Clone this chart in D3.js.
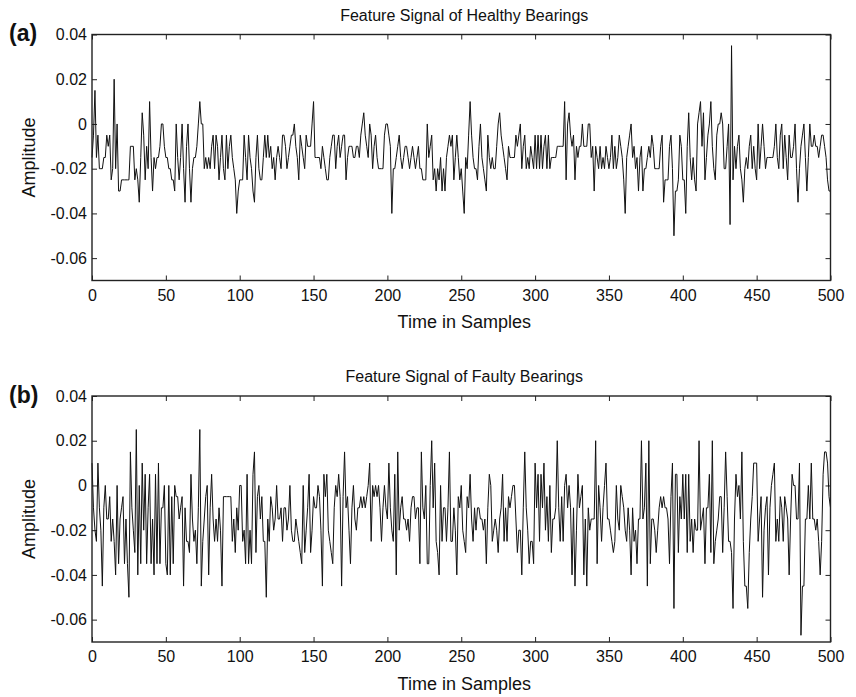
<!DOCTYPE html>
<html><head><meta charset="utf-8">
<script src="https://cdn.jsdelivr.net/npm/d3@7"></script>
<style>
body{margin:0;background:#fff}
svg{display:block;font-family:"Liberation Sans",Arial,Helvetica,sans-serif}
</style>
</head><body>
<svg id="chart" width="856" height="697"></svg>
<script>
// ---- data (amplitude per sample, samples 0..500) ----
const healthy = [
-0.015,-0.005,0.015,-0.015,-0.005,-0.02,-0.02,-0.02,-0.015,-0.015,
-0.005,-0.01,-0.005,-0.025,-0.02,0.02,-0.02,0,-0.03,-0.03,
-0.025,-0.025,-0.025,-0.025,-0.025,-0.025,-0.01,-0.01,-0.01,-0.025,
-0.02,-0.025,-0.035,-0.015,0.005,-0.005,-0.025,-0.01,-0.02,0.01,
-0.015,-0.03,-0.015,-0.02,-0.015,-0.015,-0.01,0,0,-0.01,
-0.015,-0.015,-0.02,-0.02,-0.025,-0.025,-0.03,0,-0.015,-0.025,
-0.015,0,-0.02,-0.035,-0.01,0,-0.02,-0.035,-0.02,-0.015,
-0.015,-0.01,0,0.01,0,0,-0.02,-0.015,-0.02,-0.015,
-0.02,-0.01,-0.005,-0.02,-0.005,-0.01,-0.025,-0.015,-0.005,-0.02,
-0.025,-0.005,-0.02,-0.01,-0.005,-0.015,-0.02,-0.025,-0.04,-0.03,
-0.025,-0.025,-0.025,-0.005,-0.015,-0.025,-0.005,-0.015,-0.02,-0.03,
-0.035,-0.015,-0.005,-0.02,-0.025,-0.025,-0.015,-0.005,-0.015,-0.005,
-0.015,-0.01,-0.02,-0.015,-0.025,-0.015,-0.01,-0.015,-0.02,-0.005,
-0.005,-0.01,-0.02,-0.015,-0.01,-0.005,-0.005,0,-0.01,-0.015,
-0.025,-0.005,-0.01,-0.015,-0.02,-0.005,-0.01,-0.01,-0.01,0,
0.01,-0.015,-0.015,-0.015,-0.015,-0.02,-0.01,-0.015,-0.02,-0.025,
-0.025,-0.015,-0.01,-0.005,-0.005,-0.02,-0.01,-0.005,-0.015,-0.01,
-0.005,-0.005,-0.025,-0.015,-0.01,-0.01,-0.01,-0.015,-0.015,-0.01,
-0.01,-0.015,-0.005,0,0.005,-0.005,-0.01,-0.015,0,-0.005,
-0.02,-0.01,-0.005,-0.015,-0.02,-0.02,-0.02,-0.02,-0.005,0,
0,-0.005,-0.01,-0.04,-0.02,-0.02,-0.015,-0.01,-0.005,-0.015,
-0.02,-0.015,-0.01,-0.01,-0.015,-0.02,-0.015,-0.01,-0.015,-0.02,
-0.015,-0.01,-0.02,-0.02,-0.025,-0.025,-0.025,0,-0.015,-0.01,
-0.005,-0.025,-0.02,-0.03,-0.02,-0.025,-0.015,-0.03,-0.02,-0.03,
-0.015,-0.01,-0.005,-0.01,-0.005,-0.025,-0.015,-0.005,-0.015,-0.025,
-0.02,-0.03,-0.04,-0.015,-0.02,-0.005,0.01,-0.005,-0.015,-0.02,
-0.02,-0.025,-0.01,0,-0.015,-0.02,-0.025,-0.03,-0.005,-0.015,
-0.02,-0.015,-0.02,-0.02,-0.01,0,0.005,-0.005,-0.01,-0.015,
-0.02,-0.025,-0.01,-0.015,-0.015,-0.015,-0.015,-0.005,-0.01,-0.005,
0,-0.02,-0.01,-0.005,-0.02,-0.015,-0.02,-0.01,-0.015,-0.02,
-0.005,-0.02,-0.005,-0.02,-0.005,-0.02,-0.01,-0.005,-0.02,-0.005,
-0.02,-0.015,-0.015,-0.015,-0.015,-0.01,-0.01,-0.01,-0.01,-0.01,
0.01,-0.025,0,0.005,-0.005,-0.01,-0.005,-0.025,-0.01,-0.015,
-0.01,-0.01,0,-0.01,-0.01,-0.01,0,0,-0.015,-0.01,
-0.03,-0.01,-0.015,-0.02,-0.01,-0.02,-0.015,-0.02,-0.01,-0.015,
-0.02,-0.015,-0.005,-0.02,-0.01,-0.02,-0.015,-0.005,-0.01,-0.015,
-0.025,-0.04,-0.015,-0.01,-0.005,0,-0.015,-0.01,-0.02,-0.015,
-0.03,-0.015,-0.01,-0.03,-0.02,-0.02,-0.015,-0.01,-0.015,-0.005,
-0.01,-0.02,-0.02,-0.02,-0.02,-0.01,-0.005,-0.035,-0.025,-0.025,
-0.025,-0.01,-0.005,-0.02,-0.05,-0.03,-0.03,-0.025,-0.005,-0.01,
-0.025,-0.025,-0.04,-0.01,0.005,-0.015,-0.025,-0.015,-0.025,-0.03,
0,0.005,0.01,-0.01,0.005,-0.025,-0.015,-0.005,0,0.01,
-0.01,-0.02,-0.025,-0.005,0,0,0.005,0,-0.02,-0.02,
-0.01,0,-0.045,0.035,-0.025,-0.01,-0.02,-0.01,-0.005,-0.02,
-0.025,-0.035,-0.02,-0.015,-0.02,-0.01,-0.005,-0.02,-0.01,-0.02,
-0.025,0,-0.02,-0.01,0,-0.01,-0.02,-0.015,-0.015,-0.015,
-0.015,-0.015,-0.01,0,-0.015,-0.02,-0.005,0,-0.02,-0.005,
-0.015,-0.025,-0.005,-0.015,-0.015,-0.01,0,-0.02,-0.035,-0.02,
-0.01,-0.005,0,-0.015,-0.03,-0.015,0,-0.01,-0.01,-0.005,
-0.01,-0.01,-0.015,-0.01,-0.005,-0.005,-0.01,-0.015,-0.025,-0.03,-0.03
];
const faulty = [
0.01,-0.01,-0.02,-0.025,0.01,-0.01,-0.02,-0.045,-0.01,0,
-0.015,-0.015,-0.005,-0.025,-0.015,-0.025,-0.04,0,-0.035,-0.015,
-0.01,-0.005,-0.035,-0.015,-0.035,-0.05,0.015,-0.01,-0.02,-0.03,
0.025,-0.04,0,-0.035,0.01,-0.02,0.005,-0.035,-0.01,0.005,
-0.035,-0.015,-0.04,0.005,-0.035,0.01,-0.035,-0.01,-0.01,0,
-0.035,-0.04,0,-0.04,-0.005,-0.035,0,-0.005,-0.005,-0.015,
-0.01,-0.005,-0.045,-0.01,-0.025,-0.025,-0.03,0.005,-0.015,-0.025,
-0.02,-0.035,-0.01,0.025,-0.045,-0.025,-0.015,-0.005,0,-0.04,
-0.01,0.005,-0.015,-0.025,-0.015,-0.025,-0.01,-0.02,-0.045,-0.005,
-0.005,-0.005,-0.005,-0.005,-0.005,-0.025,-0.015,-0.03,-0.01,-0.02,
0,0,-0.025,-0.02,-0.035,0.005,-0.035,-0.02,-0.035,0.005,
0.015,-0.03,-0.005,0,-0.015,-0.005,-0.025,-0.025,-0.05,-0.015,
-0.025,-0.005,-0.01,-0.02,-0.015,0,-0.015,-0.015,-0.01,-0.025,
-0.01,-0.01,-0.02,-0.015,0,-0.02,-0.025,-0.025,-0.015,-0.02,
-0.025,-0.03,-0.035,0,-0.03,-0.02,-0.01,0.005,-0.03,-0.02,
-0.005,-0.01,-0.01,0,-0.005,-0.02,-0.045,0.005,-0.005,0.005,
-0.02,-0.025,-0.03,-0.035,-0.01,0,-0.005,0.005,-0.005,-0.045,
-0.005,0.015,-0.01,-0.005,-0.02,-0.035,-0.01,0,-0.015,-0.02,
-0.01,-0.01,-0.005,-0.01,-0.005,-0.01,-0.005,0,0.01,-0.025,
0,-0.005,0,-0.005,0,-0.01,-0.025,-0.01,0,-0.01,
-0.015,0.01,-0.01,-0.02,-0.025,0.005,-0.04,0.015,-0.02,-0.01,
-0.005,-0.015,-0.015,-0.02,-0.015,-0.025,-0.01,-0.005,-0.005,-0.015,
-0.01,-0.01,-0.035,0.015,-0.01,-0.015,0,-0.035,-0.035,0,
0.02,-0.01,0.01,-0.025,-0.03,-0.04,0,-0.025,-0.01,-0.01,
-0.025,-0.01,0.015,-0.025,-0.025,-0.01,-0.02,-0.04,-0.005,-0.01,
0,-0.02,-0.025,-0.03,-0.005,-0.01,0.005,-0.015,-0.025,-0.01,
-0.02,-0.01,-0.01,-0.015,-0.015,-0.02,-0.015,-0.035,-0.01,0.005,
0,-0.025,-0.02,-0.015,-0.02,-0.03,-0.015,-0.01,0.005,-0.025,
-0.01,-0.025,-0.005,-0.01,-0.005,0,0,-0.015,-0.03,-0.02,
-0.02,-0.04,-0.01,0.015,-0.01,-0.02,-0.035,-0.025,-0.025,-0.035,
0.01,-0.01,0.005,-0.025,0.005,-0.01,0.01,-0.02,-0.005,-0.025,
0,-0.03,-0.015,-0.015,-0.01,0.02,-0.01,-0.025,-0.005,-0.025,
0,0.005,-0.01,0,-0.01,-0.04,-0.01,-0.045,-0.02,0.005,
-0.01,-0.005,0,-0.04,-0.015,-0.045,-0.01,-0.02,-0.015,-0.015,
-0.015,0.02,-0.035,0,-0.01,-0.025,-0.01,0,0.01,-0.015,
-0.015,-0.02,-0.025,-0.03,-0.025,0,-0.015,-0.02,0,-0.005,
-0.01,-0.02,-0.025,-0.01,-0.02,-0.04,-0.01,-0.025,-0.02,-0.035,
-0.015,-0.015,0.02,-0.015,-0.01,0.01,-0.045,0.02,-0.035,-0.015,
-0.015,-0.02,-0.03,-0.02,-0.01,-0.005,-0.01,-0.005,-0.01,-0.01,
-0.015,-0.035,-0.005,0.01,-0.055,0.005,0.005,-0.03,-0.005,-0.015,
0.005,-0.015,0.005,-0.03,0.005,-0.025,-0.015,-0.03,-0.015,-0.02,
-0.02,0.02,-0.02,-0.015,-0.01,-0.035,-0.01,-0.01,0.005,-0.03,
0.02,-0.035,-0.025,-0.02,-0.015,-0.005,-0.005,-0.03,-0.01,0.015,
-0.005,-0.025,-0.025,-0.03,-0.055,-0.015,0.005,-0.005,0,-0.015,
0.015,-0.025,-0.045,-0.045,-0.055,-0.03,-0.015,-0.005,0.01,0.01,
0.01,-0.025,-0.015,-0.005,-0.05,-0.02,-0.01,-0.005,-0.04,-0.01,
0,0.005,0.01,-0.025,-0.015,-0.025,-0.005,-0.01,-0.025,-0.005,
-0.01,-0.015,-0.04,-0.015,0.005,0,0,-0.015,-0.015,0.01,
-0.067,-0.045,-0.045,-0.015,-0.015,0,-0.015,0.01,-0.015,-0.015,
-0.02,-0.015,-0.025,-0.04,-0.025,0.005,0.015,0.015,0.01,-0.005,-0.01
];
const xTickValues = [0,50,100,150,200,250,300,350,400,450,500];
const yTickValues = [0.04,0.02,0,-0.02,-0.04,-0.06];
const yTickLabels = ["0.04","0.02","0","-0.02","-0.04","-0.06"];
const panelLetters = ["(a)","(b)"];
const panelTitles = ["Feature Signal of Healthy Bearings","Feature Signal of Faulty Bearings"];
const xLabel = "Time in Samples";
const yLabel = "Amplitude";
const xDomain = [0,500];
const yDomain = [-0.07,0.04];

// ---- layout ----
const svg = d3.select("#chart");
const left = 92, right = 830.5, plotH = 246;
const tops = [34.5, 396];
const seriesList = [healthy, faulty];
const FONT = '"Liberation Sans",Arial,sans-serif';

const x = d3.scaleLinear().domain(xDomain).range([left, right]);

seriesList.forEach((data, k) => {
  const top = tops[k], bottom = top + plotH;
  const y = d3.scaleLinear().domain(yDomain).range([bottom, top]);
  const g = svg.append("g");

  // axes with inward ticks
  const xb = g.append("g").attr("transform",`translate(0,${bottom})`)
    .call(d3.axisBottom(x).tickValues(xTickValues).tickSizeInner(-5).tickSizeOuter(0).tickPadding(9).tickFormat(d3.format("d")));
  const xt = g.append("g").attr("transform",`translate(0,${top})`)
    .call(d3.axisTop(x).tickValues(xTickValues).tickSizeInner(-5).tickSizeOuter(0).tickFormat(""));
  const yl = g.append("g").attr("transform",`translate(${left},0)`)
    .call(d3.axisLeft(y).tickValues(yTickValues).tickSizeInner(-5).tickSizeOuter(0).tickPadding(5)
      .tickFormat((d,i)=>yTickLabels[i]));
  const yr = g.append("g").attr("transform",`translate(${right},0)`)
    .call(d3.axisRight(y).tickValues(yTickValues).tickSizeInner(-5).tickSizeOuter(0).tickFormat(""));
  [xb,xt,yl,yr].forEach(a=>{
    a.select(".domain").remove();
    a.selectAll(".tick line").attr("stroke","#222").attr("stroke-width",1);
    a.selectAll("text").attr("font-family",FONT).attr("font-size",16).attr("fill","#111");
  });

  // signal line
  const line = d3.line().x((d,i)=>x(i)).y(d=>y(d));
  g.append("path").datum(data).attr("d",line)
    .attr("fill","none").attr("stroke","#111").attr("stroke-width",1).attr("stroke-linejoin","miter");

  // frame
  g.append("rect").attr("x",left).attr("y",top).attr("width",right-left).attr("height",plotH)
    .attr("fill","none").attr("stroke","#222").attr("stroke-width",1.4);

  // texts
  g.append("text").attr("x",(left+right)/2+3).attr("y",top-14).attr("text-anchor","middle")
    .attr("font-size",16).attr("fill","#111").text(panelTitles[k]);
  g.append("text").attr("x",(left+right)/2+3).attr("y",bottom+47.5).attr("text-anchor","middle")
    .attr("font-size",18).attr("fill","#111").text(xLabel);
  g.append("text").attr("transform",`translate(35,${top+plotH/2}) rotate(-90)`).attr("text-anchor","middle")
    .attr("font-size",18).attr("fill","#111").text(yLabel);
  g.append("text").attr("x",9).attr("y",top+6.5).attr("font-size",23).attr("font-weight","bold")
    .attr("fill","#111").text(panelLetters[k]);
});
</script>
</body></html>
